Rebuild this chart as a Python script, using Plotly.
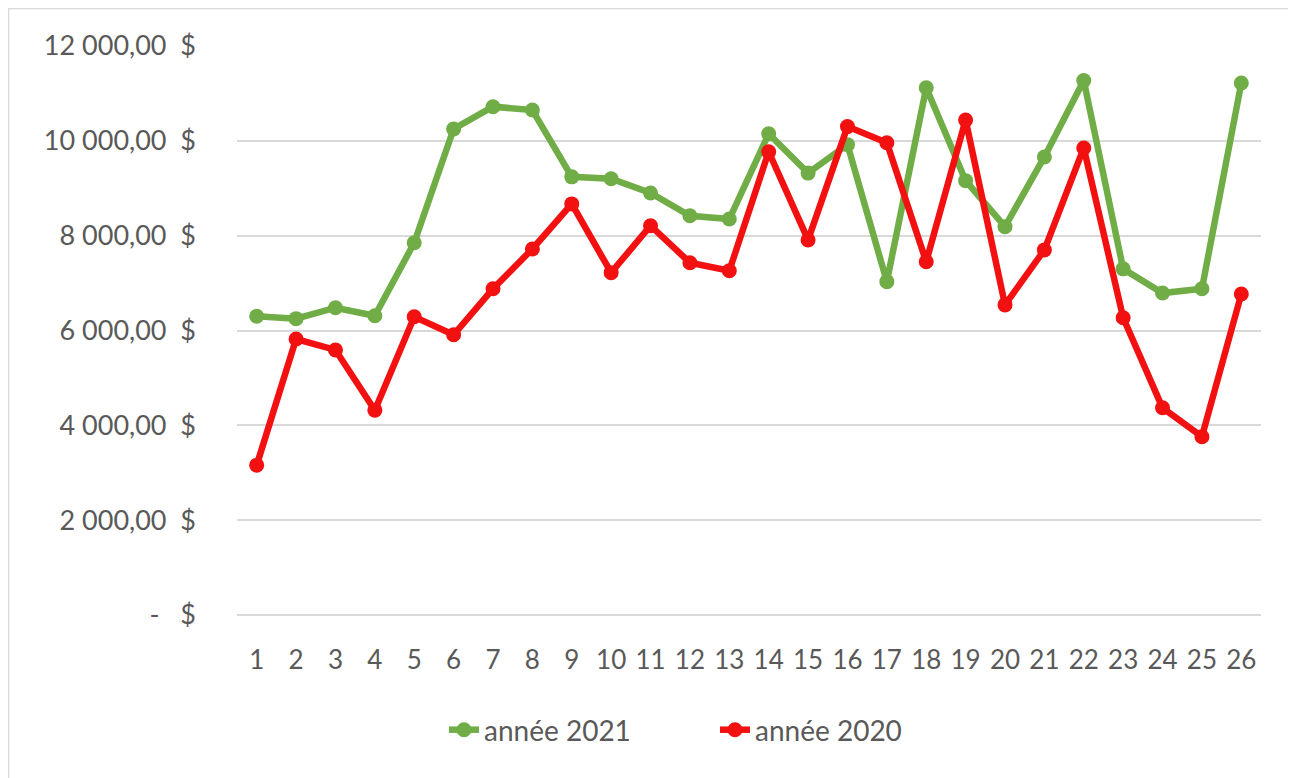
import plotly.graph_objects as go

weeks = list(range(1, 27))
annee_2021 = [6300, 6250, 6480, 6310, 7850, 10250, 10720, 10650, 9240, 9200,
              8900, 8420, 8350, 10150, 9320, 9920, 7030, 11120, 9160, 8190,
              9660, 11270, 7300, 6790, 6880, 11220]
annee_2020 = [3160, 5820, 5590, 4320, 6290, 5910, 6880, 7720, 8670, 7220,
              8210, 7430, 7260, 9770, 7910, 10300, 9960, 7450, 10440, 6540,
              7700, 9850, 6270, 4370, 3760, 6770]
y_tickvals = [0, 2000, 4000, 6000, 8000, 10000, 12000]
y_ticktext = ["-   $", "2 000,00  $", "4 000,00  $", "6 000,00  $",
              "8 000,00  $", "10 000,00  $", "12 000,00  $"]

FONT = "Lato, 'Open Sans', sans-serif"
GREEN = "#70AD47"
RED = "#F21010"

# the page body adds an 8px offset; plot area in figure coords: x 229..1253, y 38..607
L, R, T, B = 229, 1253, 38, 607
W, H = 1296, 778
PW, PH = R - L, B - T

fig = go.Figure()
fig.add_trace(go.Scatter(x=weeks, y=annee_2021, mode="lines+markers", name="année 2021",
                         line=dict(color=GREEN, width=6.5),
                         marker=dict(color=GREEN, size=15)))
fig.add_trace(go.Scatter(x=weeks, y=annee_2020, mode="lines+markers", name="année 2020",
                         line=dict(color=RED, width=6.5),
                         marker=dict(color=RED, size=15)))

fig.update_layout(
    width=W, height=H,
    margin=dict(l=L, r=W - R, t=T, b=H - B),
    paper_bgcolor="white", plot_bgcolor="white",
    font=dict(family=FONT, size=27, color="#595959"),
    showlegend=True,
    legend=dict(orientation="h", x=(444 - 8 - L) / PW, xanchor="left",
                y=(B - 722) / PH, yanchor="middle",
                entrywidth=226, entrywidthmode="pixels",
                font=dict(size=28, color="#595959"), traceorder="normal"),
    xaxis=dict(range=[0.5, 26.5], tickvals=weeks, ticktext=[str(w) for w in weeks],
               showgrid=False, zeroline=False, showline=False, ticks="",
               tickfont=dict(size=26, color="#595959"), ticklabelstandoff=27),
    yaxis=dict(range=[0, 12000], tickvals=y_tickvals, ticktext=y_ticktext,
               showgrid=True, gridcolor="#D9D9D9", gridwidth=1.5,
               zeroline=True, zerolinecolor="#D9D9D9", zerolinewidth=1.5,
               showline=False, ticks="", ticklabelstandoff=40,
               tickfont=dict(size=27, color="#595959")),
    shapes=[dict(type="rect", xref="paper", yref="paper",
                 x0=(0.5 - L) / PW, x1=(1281 - L) / PW,
                 y0=(B - 790) / PH, y1=(B - 0.5) / PH,
                 line=dict(color="#D9D9D9", width=1.5), fillcolor="rgba(0,0,0,0)",
                 layer="below")],
)

fig.write_html("out.html")
